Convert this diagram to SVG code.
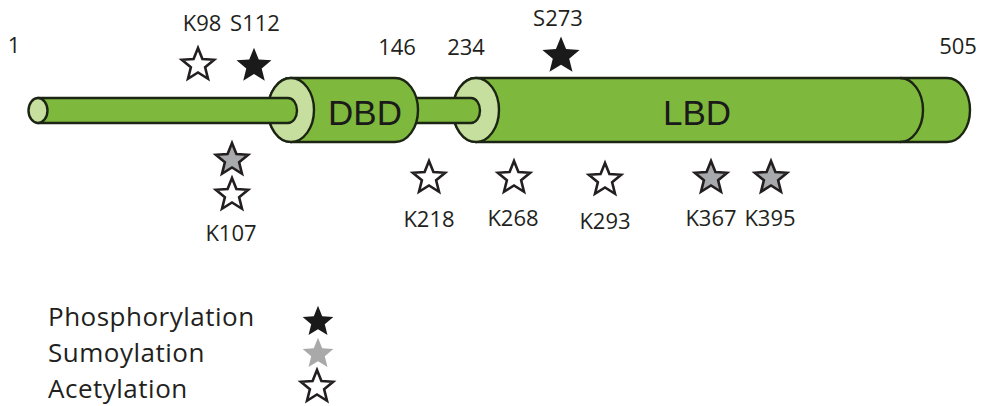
<svg xmlns="http://www.w3.org/2000/svg" xmlns:xlink="http://www.w3.org/1999/xlink" width="996" height="406" viewBox="0 0 996 406">
<style>
.body{fill:#7eb93e;stroke:#1c2414;stroke-width:2.4;stroke-linejoin:round}
.face{fill:#c6df9e;stroke:#1c2414;stroke-width:2.4}
.line{fill:none;stroke:#1c2414;stroke-width:2.4}
.dom{font-family:"Liberation Sans",Arial,sans-serif;font-size:35px;fill:#1a1a1a;text-anchor:middle}
.lbl{font-family:"Open Sans","Noto Sans",sans-serif;font-size:22px;fill:#231f20;text-anchor:middle}
.leg{font-family:"Open Sans","Noto Sans",sans-serif;font-size:26px;letter-spacing:0.5px;fill:#231f20}
.open{fill:#ffffff;stroke:#231f20;stroke-width:2.6;stroke-linejoin:miter}
.grey{fill:#a7a9ac;stroke:#231f20;stroke-width:2.6;stroke-linejoin:miter}
.black{fill:#1a1a1a}
.lgrey{fill:#a9a9a9}
</style>
<defs>
<path id="star" d="M0,-17 L4.41,-6.07 L16.17,-5.25 L7.13,2.32 L9.99,13.75 L0,7.5 L-9.99,13.75 L-7.13,2.32 L-16.17,-5.25 L-4.41,-6.07 Z"/>
</defs>
<g id="protein">
<g id="LBD">
<path class="body" d="M476,78 H947 A23,32 0 0 1 947,142 H476 A23,32 0 0 1 476,78 Z"/>
<path class="line" d="M900,78 A23,32 0 0 1 900,142"/>
<ellipse class="face" cx="476" cy="110" rx="23" ry="32"/>
<text class="dom" x="697" y="125">LBD</text>
</g>
<g id="linker">
<path class="body" d="M400,98 H471 A9,12.5 0 0 1 471,123 H400 Z"/>
</g>
<g id="DBD">
<path class="body" d="M291,78 H395 A23,32 0 0 1 395,142 H291 A23,32 0 0 1 291,78 Z"/>
<ellipse class="face" cx="291" cy="110" rx="23" ry="32"/>
<text class="dom" x="365" y="125">DBD</text>
</g>
<g id="NTD">
<path class="body" d="M38,98 H288 A9,12.5 0 0 1 288,123 H38 Z"/>
<ellipse class="face" cx="38" cy="110.5" rx="9.5" ry="12.5"/>
</g>
</g>
<g id="positions">
<text class="lbl" x="14" y="53">1</text>
<text class="lbl" x="397" y="55">146</text>
<text class="lbl" x="466" y="55">234</text>
<text class="lbl" x="958" y="54">505</text>
</g>
<g id="K98"><use xlink:href="#star" href="#star" class="open" transform="translate(198,65)"/><text class="lbl" x="202" y="31">K98</text></g>
<g id="S112"><use xlink:href="#star" href="#star" class="black" transform="translate(254,66) scale(1.08)"/><text class="lbl" x="255" y="31">S112</text></g>
<g id="S273"><use xlink:href="#star" href="#star" class="black" transform="translate(561,56) scale(1.15)"/><text class="lbl" x="558" y="26">S273</text></g>
<g id="K107"><use xlink:href="#star" href="#star" class="grey" transform="translate(232,160)"/><use xlink:href="#star" href="#star" class="open" transform="translate(232,195)"/><text class="lbl" x="231" y="241">K107</text></g>
<g id="K218"><use xlink:href="#star" href="#star" class="open" transform="translate(429,178)"/><text class="lbl" x="429" y="227">K218</text></g>
<g id="K268"><use xlink:href="#star" href="#star" class="open" transform="translate(514,178)"/><text class="lbl" x="513" y="226">K268</text></g>
<g id="K293"><use xlink:href="#star" href="#star" class="open" transform="translate(605,180)"/><text class="lbl" x="605" y="229">K293</text></g>
<g id="K367"><use xlink:href="#star" href="#star" class="grey" transform="translate(711,178)"/><text class="lbl" x="711" y="226">K367</text></g>
<g id="K395"><use xlink:href="#star" href="#star" class="grey" transform="translate(771,178)"/><text class="lbl" x="770" y="226">K395</text></g>
<g id="legend">
<g id="leg-phos"><text class="leg" x="48" y="326">Phosphorylation</text><use xlink:href="#star" href="#star" class="black" transform="translate(318,322) scale(0.95)"/></g>
<g id="leg-sumo"><text class="leg" x="48" y="362">Sumoylation</text><use xlink:href="#star" href="#star" class="lgrey" transform="translate(318,354) scale(0.95)"/></g>
<g id="leg-acet"><text class="leg" x="48" y="398">Acetylation</text><use xlink:href="#star" href="#star" class="open" transform="translate(317,387)"/></g>
</g>
</svg>
